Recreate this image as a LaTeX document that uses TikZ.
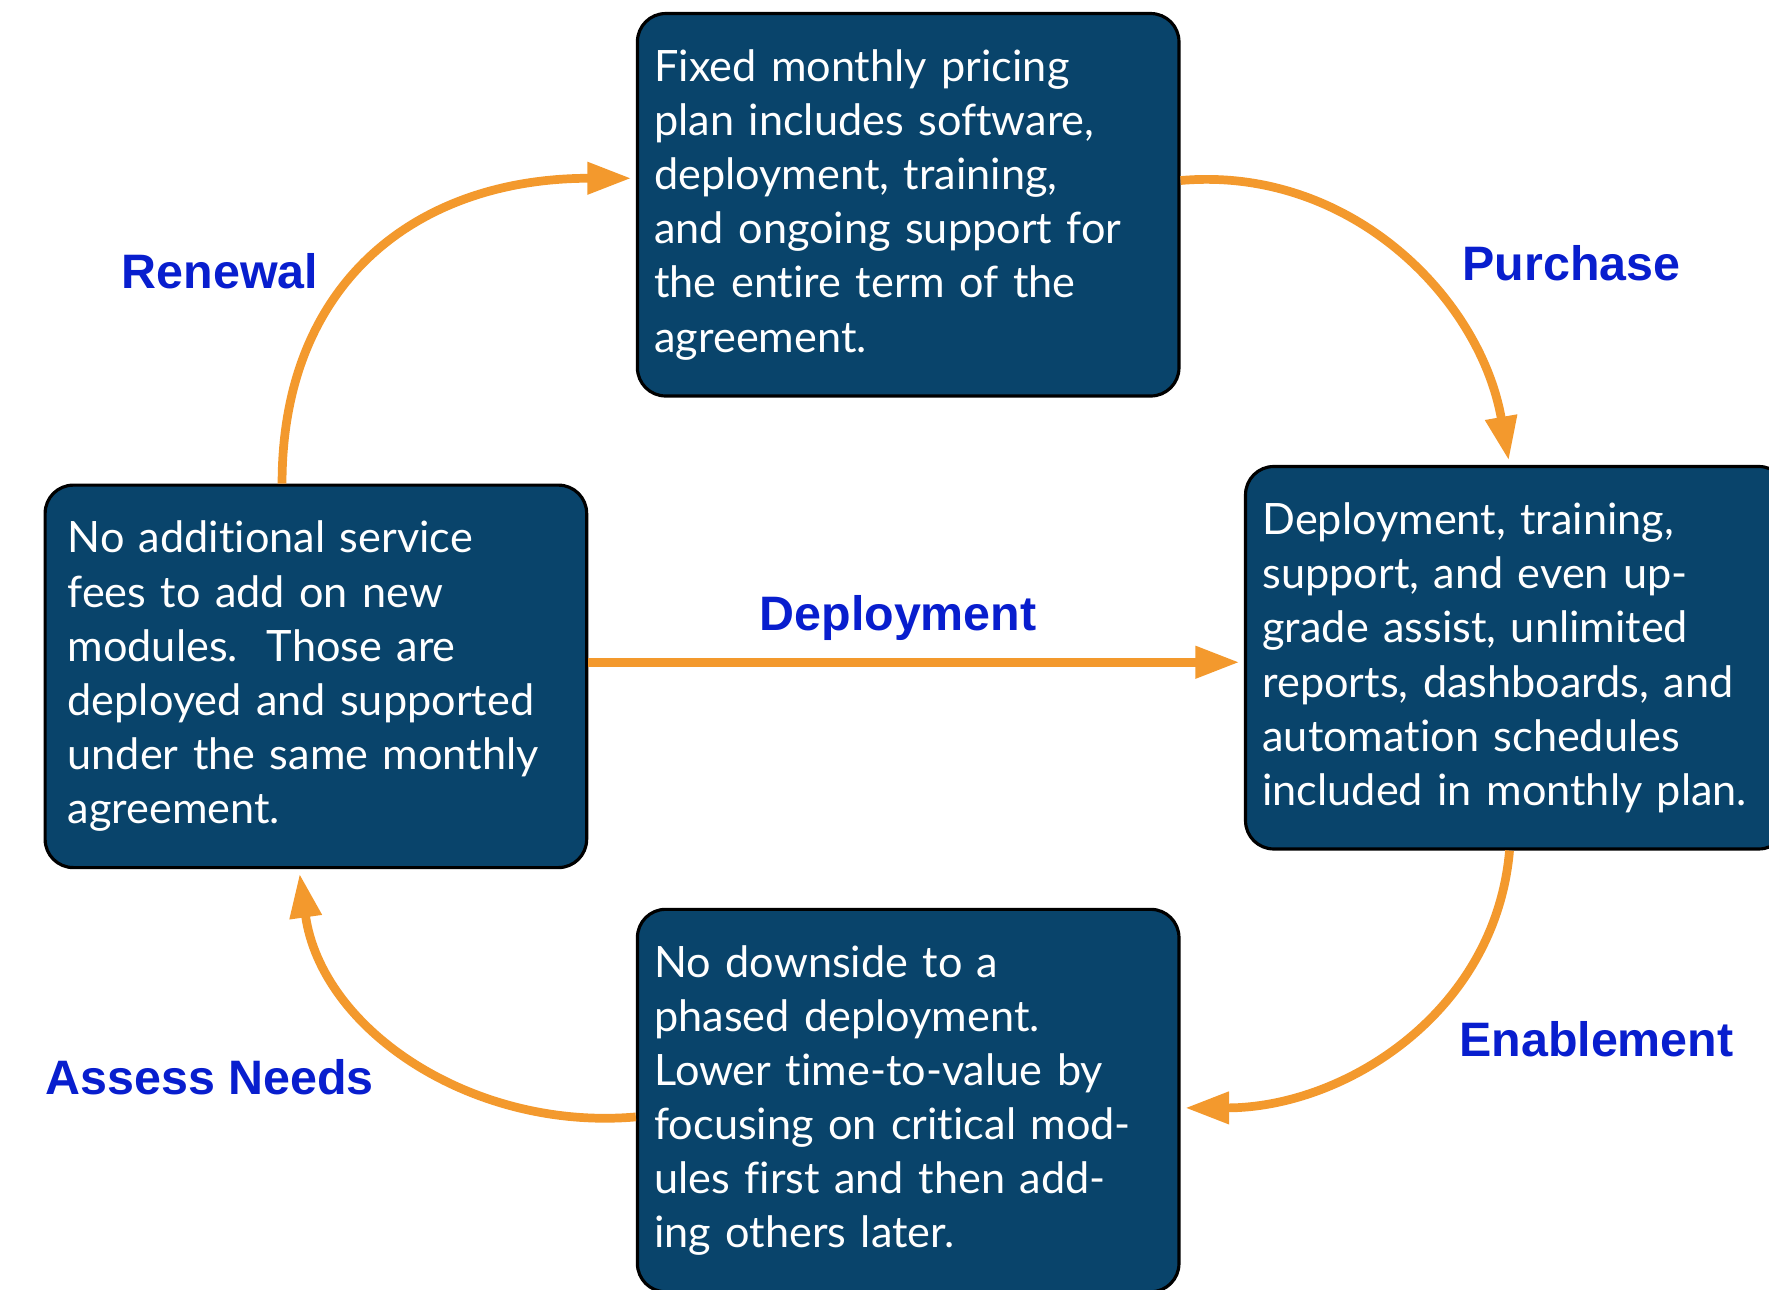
\documentclass[tikz,border=0pt]{standalone}
\usepackage{fontspec}
\setmainfont{Lato}[Ligatures=CommonOff]
\newfontfamily\labelfont{Liberation Sans}
\usetikzlibrary{arrows.meta,positioning}

\definecolor{boxblue}{RGB}{9,68,107}
\definecolor{flowor}{RGB}{243,153,45}
\definecolor{labelblue}{RGB}{8,30,206}

\tikzset{
  stage/.style={rectangle, rounded corners=2.5mm, draw=black, line width=0.8pt,
    fill=boxblue, text=white, text width=4.5cm, inner xsep=1.5mm, inner ysep=0pt,
    minimum height=3.39cm, align=left, font=\fontsize{10.9}{13.66}\selectfont},
  flow/.style={draw=flowor, line width=2.2pt, shorten >=0.4mm},
  steplabel/.style={text=labelblue, font=\labelfont\bfseries\fontsize{12.2}{14}\selectfont}
}

\begin{document}
\begin{tikzpicture}[>={Triangle[length=3.9mm,width=2.7mm]}, ->]
\useasboundingbox (0,0) rectangle (15.68,-11.43);
\node [stage] (fixed) at (8.05,-1.815) {Fixed monthly pricing\\ plan includes software,\\ deployment, training,\\ and ongoing support for\\ the entire term of the\\ agreement.};
\node [stage] (plan) at (13.44,-5.83) {Deployment, training,\\ support, and even up-\\ grade assist, unlimited\\ reports, dashboards, and\\ automation schedules\\ included in monthly plan.};
\node [stage] (modules) at (2.80,-5.995) {\hspace*{0.5mm}No additional service\\ \hspace*{0.5mm}fees to add on new\\ \hspace*{0.5mm}modules.\ \ Those are\\ \hspace*{0.5mm}deployed and supported\\ \hspace*{0.5mm}under the same monthly\\ \hspace*{0.5mm}agreement.};
\node [stage] (phased) at (8.05,-9.755) {No downside to a\\ phased deployment.\\ Lower time-to-value by\\ focusing on critical mod-\\ ules first and then add-\\ ing others later.};

\path ([xshift=-3mm]modules.north) edge [flow, out=90, in=180, out looseness=1.1, in looseness=1.2] ([yshift=2.35mm]fixed.west);
\path ([yshift=2.15mm]fixed.east) edge [flow, out=5, in=100] ([xshift=-0.6mm]plan.north);
\path ([xshift=-0.6mm]plan.south) edge [flow, out=-95, in=0] ([yshift=-0.65mm]phased.east);
\path ([yshift=-1.45mm]phased.west) edge [flow, out=185, in=-82] ([xshift=-1.5mm]modules.south);
\path ([yshift=1.25mm]modules.east) coordinate (dstart) edge [flow] (dstart -| plan.west);

\node [steplabel] (renewal) at (1.95,-2.40) {Renewal};
\node [steplabel] (purchase) at (13.93,-2.33) {Purchase};
\node [steplabel] (deploy) at (7.96,-5.48) {Deployment};
\node [steplabel] (enable) at (14.15,-9.21) {Enablement};
\node [steplabel] (assess) at (1.86,-9.55) {Assess Needs};
\end{tikzpicture}
\end{document}
